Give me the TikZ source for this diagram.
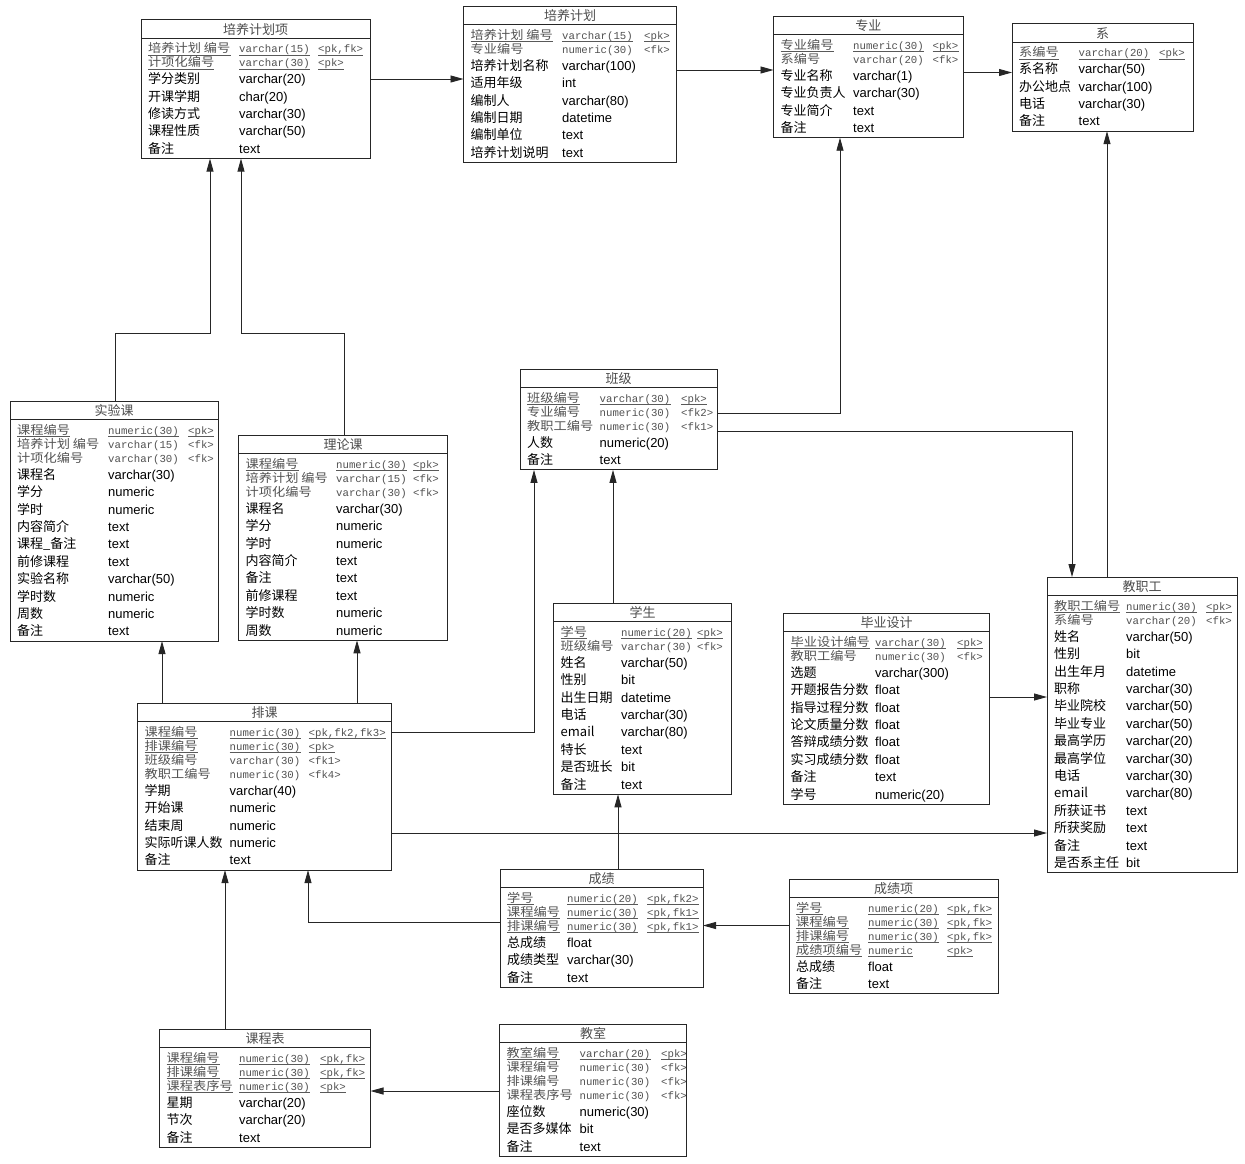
\documentclass[tikz,border=0pt]{standalone}
\usepackage{fontspec}
\setmainfont{Liberation Sans}
\newfontfamily\cjk{Noto Sans CJK SC}
\newfontfamily\cjkwide[FakeStretch=1.1]{Noto Sans CJK SC}
\newfontfamily\erMono{Liberation Mono}
\usetikzlibrary{arrows.meta,calc}

\tikzset{
  box/.style={draw=black!85, line width=1pt, inner sep=0pt, outer sep=0pt, anchor=north west},
  sepline/.style={draw=black!85, line width=0.9pt},
  ttl/.style={anchor=base, inner sep=0pt, font=\cjk\fontsize{13}{15}\selectfont, text=black!70},
  nm/.style={anchor=base west, inner sep=0pt, font=\cjk\fontsize{13}{15}\selectfont},
  ty/.style={anchor=base west, inner sep=0pt, font=\fontsize{13}{15}\selectfont},
  knm/.style={anchor=base west, inner sep=0pt, font=\cjkwide\fontsize{12}{14}\selectfont, text=black!68},
  kty/.style={anchor=base west, inner sep=0pt, font=\erMono\fontsize{10.7}{12}\selectfont, text=black!68},
  ul/.style={draw=black!65, line width=0.6pt},
  fk/.style={draw=black!85, line width=0.9pt, -{Triangle[length=13pt,width=7pt]}},
}

\newcount\erRowNo
\newcommand\tstart[7]{%
  \gdef\erN{#1}\gdef\erX{#2}\gdef\erY{#3}\gdef\erW{#4}\gdef\erA{#5}\gdef\erB{#6}%
  \global\erRowNo=0
  \pgfmathsetmacro\erTmp{#3+29}\xdef\erR{\erTmp}%
  \gdef\erK{1}%
  \node[ttl] (#1-title) at (#2+#4/2,#3+14.7) {#7};%
}
\newcommand\krow[4]{%
  \global\advance\erRowNo by 1
  \xdef\erRN{\erN-\the\erRowNo}%
  \pgfmathsetmacro\erRowB{\erR+4.4}%
  \node[knm] (\erRN-a) at (\erX+7,\erRowB) {#1};%
  \node[kty] (\erRN-b) at (\erA,\erRowB) {#2};%
  \node[kty] (\erRN-c) at (\erB,\erRowB) {#3};%
  \ifnum#4=1
    \foreach \s in {a,b,c}{\draw[ul] ([yshift=-2pt]\erRN-\s.base west) -- ([yshift=-2pt]\erRN-\s.base east);}%
  \fi
  \pgfmathsetmacro\erTmp{\erR+14}\xdef\erR{\erTmp}%
  \gdef\erK{1}%
}
\newcommand\nrow[2]{%
  \global\advance\erRowNo by 1
  \xdef\erRN{\erN-\the\erRowNo}%
  \ifnum\erK=1 \pgfmathsetmacro\erTmp{\erR+2.5}\xdef\erR{\erTmp}\fi
  \pgfmathsetmacro\erRowB{\erR+4.7}%
  \node[nm] (\erRN-a) at (\erX+7,\erRowB) {#1};%
  \node[ty] (\erRN-b) at (\erA,\erRowB) {#2};%
  \pgfmathsetmacro\erTmp{\erR+17.4}\xdef\erR{\erTmp}%
  \gdef\erK{0}%
}
\newcommand\tend{%
  \pgfmathsetmacro\erTmp{\erR-17.4+10-\erY}%
  \node[box, minimum width=\erW pt, minimum height=\erTmp pt] (\erN) at (\erX,\erY) {};%
  \draw[sepline] (\erX,\erY+18.7) -- (\erX+\erW,\erY+18.7);%
}

\begin{document}
\begin{tikzpicture}[x=1pt,y=-1pt]
\fill[white] (0,0) rectangle (1245,1163);
\useasboundingbox (0,0) rectangle (1245,1163);

% 培养计划项
\tstart{pjx}{141}{19.5}{229}{239}{318}{培养计划项}
\krow{培养计划 编号}{varchar(15)}{<pk,fk>}{1}
\krow{计项化编号}{varchar(30)}{<pk>}{1}
\nrow{学分类别}{varchar(20)}
\nrow{开课学期}{char(20)}
\nrow{修读方式}{varchar(30)}
\nrow{课程性质}{varchar(50)}
\nrow{备注}{text}
\tend

% 培养计划
\tstart{pj}{463.5}{6}{213}{562}{644}{培养计划}
\krow{培养计划 编号}{varchar(15)}{<pk>}{1}
\krow{专业编号}{numeric(30)}{<fk>}{0}
\nrow{培养计划名称}{varchar(100)}
\nrow{适用年级}{int}
\nrow{编制人}{varchar(80)}
\nrow{编制日期}{datetime}
\nrow{编制单位}{text}
\nrow{培养计划说明}{text}
\tend

% 专业
\tstart{zy}{773.5}{16}{189.5}{853}{932.5}{专业}
\krow{专业编号}{numeric(30)}{<pk>}{1}
\krow{系编号}{varchar(20)}{<fk>}{0}
\nrow{专业名称}{varchar(1)}
\nrow{专业负责人}{varchar(30)}
\nrow{专业简介}{text}
\nrow{备注}{text}
\tend

% 系
\tstart{xi}{1012}{23.5}{181}{1078.5}{1159}{系}
\krow{系编号}{varchar(20)}{<pk>}{1}
\nrow{系名称}{varchar(50)}
\nrow{办公地点}{varchar(100)}
\nrow{电话}{varchar(30)}
\nrow{备注}{text}
\tend

% 实验课
\tstart{syk}{10}{401}{208}{108}{188}{实验课}
\krow{课程编号}{numeric(30)}{<pk>}{1}
\krow{培养计划 编号}{varchar(15)}{<fk>}{0}
\krow{计项化编号}{varchar(30)}{<fk>}{0}
\nrow{课程名}{varchar(30)}
\nrow{学分}{numeric}
\nrow{学时}{numeric}
\nrow{内容简介}{text}
\nrow{课程\_备注}{text}
\nrow{前修课程}{text}
\nrow{实验名称}{varchar(50)}
\nrow{学时数}{numeric}
\nrow{周数}{numeric}
\nrow{备注}{text}
\tend

% 理论课
\tstart{llk}{238.5}{435}{209}{336}{413}{理论课}
\krow{课程编号}{numeric(30)}{<pk>}{1}
\krow{培养计划 编号}{varchar(15)}{<fk>}{0}
\krow{计项化编号}{varchar(30)}{<fk>}{0}
\nrow{课程名}{varchar(30)}
\nrow{学分}{numeric}
\nrow{学时}{numeric}
\nrow{内容简介}{text}
\nrow{备注}{text}
\nrow{前修课程}{text}
\nrow{学时数}{numeric}
\nrow{周数}{numeric}
\tend

% 班级
\tstart{bj}{520}{369}{197}{599.5}{681}{班级}
\krow{班级编号}{varchar(30)}{<pk>}{1}
\krow{专业编号}{numeric(30)}{<fk2>}{0}
\krow{教职工编号}{numeric(30)}{<fk1>}{0}
\nrow{人数}{numeric(20)}
\nrow{备注}{text}
\tend

% 学生
\tstart{xs}{553.5}{603}{178}{621}{697}{学生}
\krow{学号}{numeric(20)}{<pk>}{1}
\krow{班级编号}{varchar(30)}{<fk>}{0}
\nrow{姓名}{varchar(50)}
\nrow{性别}{bit}
\nrow{出生日期}{datetime}
\nrow{电话}{varchar(30)}
\nrow{email}{varchar(80)}
\nrow{特长}{text}
\nrow{是否班长}{bit}
\nrow{备注}{text}
\tend

% 毕业设计
\tstart{bysj}{783.5}{613}{206}{875}{957}{毕业设计}
\krow{毕业设计编号}{varchar(30)}{<pk>}{1}
\krow{教职工编号}{numeric(30)}{<fk>}{0}
\nrow{选题}{varchar(300)}
\nrow{开题报告分数}{float}
\nrow{指导过程分数}{float}
\nrow{论文质量分数}{float}
\nrow{答辩成绩分数}{float}
\nrow{实习成绩分数}{float}
\nrow{备注}{text}
\nrow{学号}{numeric(20)}
\tend

% 教职工
\tstart{jzg}{1047}{577}{190}{1126}{1206}{教职工}
\krow{教职工编号}{numeric(30)}{<pk>}{1}
\krow{系编号}{varchar(20)}{<fk>}{0}
\nrow{姓名}{varchar(50)}
\nrow{性别}{bit}
\nrow{出生年月}{datetime}
\nrow{职称}{varchar(30)}
\nrow{毕业院校}{varchar(50)}
\nrow{毕业专业}{varchar(50)}
\nrow{最高学历}{varchar(20)}
\nrow{最高学位}{varchar(30)}
\nrow{电话}{varchar(30)}
\nrow{email}{varchar(80)}
\nrow{所获证书}{text}
\nrow{所获奖励}{text}
\nrow{备注}{text}
\nrow{是否系主任}{bit}
\tend

% 排课
\tstart{pk}{137.5}{703}{254}{229.5}{308.5}{排课}
\krow{课程编号}{numeric(30)}{<pk,fk2,fk3>}{1}
\krow{排课编号}{numeric(30)}{<pk>}{1}
\krow{班级编号}{varchar(30)}{<fk1>}{0}
\krow{教职工编号}{numeric(30)}{<fk4>}{0}
\nrow{学期}{varchar(40)}
\nrow{开始课}{numeric}
\nrow{结束周}{numeric}
\nrow{实际听课人数}{numeric}
\nrow{备注}{text}
\tend

% 成绩
\tstart{cj}{500}{869}{203}{567}{647}{成绩}
\krow{学号}{numeric(20)}{<pk,fk2>}{1}
\krow{课程编号}{numeric(30)}{<pk,fk1>}{1}
\krow{排课编号}{numeric(30)}{<pk,fk1>}{1}
\nrow{总成绩}{float}
\nrow{成绩类型}{varchar(30)}
\nrow{备注}{text}
\tend

% 成绩项
\tstart{cjx}{789}{879}{209}{868}{947}{成绩项}
\krow{学号}{numeric(20)}{<pk,fk>}{1}
\krow{课程编号}{numeric(30)}{<pk,fk>}{1}
\krow{排课编号}{numeric(30)}{<pk,fk>}{1}
\krow{成绩项编号}{numeric}{<pk>}{1}
\nrow{总成绩}{float}
\nrow{备注}{text}
\tend

% 课程表
\tstart{kcb}{159.5}{1029}{211}{239}{320}{课程表}
\krow{课程编号}{numeric(30)}{<pk,fk>}{1}
\krow{排课编号}{numeric(30)}{<pk,fk>}{1}
\krow{课程表序号}{numeric(30)}{<pk>}{1}
\nrow{星期}{varchar(20)}
\nrow{节次}{varchar(20)}
\nrow{备注}{text}
\tend

% 教室
\tstart{js}{499.5}{1024}{187}{579.5}{661}{教室}
\krow{教室编号}{varchar(20)}{<pk>}{1}
\krow{课程编号}{numeric(30)}{<fk>}{0}
\krow{排课编号}{numeric(30)}{<fk>}{0}
\krow{课程表序号}{numeric(30)}{<fk>}{0}
\nrow{座位数}{numeric(30)}
\nrow{是否多媒体}{bit}
\nrow{备注}{text}
\tend

% ---------- connectors ----------
\coordinate (c1) at ([yshift=-59.5pt]pjx.north east);
\draw[fk] (c1) -- (c1 -| pj.west);

\coordinate (c2) at ([yshift=-64pt]pj.north east);
\draw[fk] (c2) -- (c2 -| zy.west);

\coordinate (c3) at ([yshift=-56.5pt]zy.north east);
\draw[fk] (c3) -- (c3 -| xi.west);

\coordinate (c4a) at ([xshift=105pt]syk.north west);
\coordinate (c4b) at ([xshift=69pt]pjx.south west);
\draw[fk] (c4a) -- ++(0,-68) -| (c4b);

\coordinate (c5a) at ([xshift=105.5pt]llk.north west);
\coordinate (c5b) at ([xshift=100pt]pjx.south west);
\draw[fk] (c5a) -- ++(0,-102) -| (c5b);

\coordinate (c6a) at ([yshift=-44pt]bj.north east);
\coordinate (c6b) at ([xshift=66.5pt]zy.south west);
\draw[fk] (c6a) -| (c6b);

\coordinate (c7a) at ([yshift=-62pt]bj.north east);
\coordinate (c7b) at ([xshift=25pt]jzg.north west);
\draw[fk] (c7a) -| (c7b);

\coordinate (c8a) at ([xshift=60pt]jzg.north west);
\coordinate (c8b) at ([xshift=95pt]xi.south west);
\draw[fk] (c8a) -- (c8b);

\coordinate (c9a) at ([xshift=59.5pt]xs.north west);
\draw[fk] (c9a) -- (c9a |- bj.south);

\coordinate (c10a) at ([yshift=-29pt]pk.north east);
\coordinate (c10b) at ([xshift=14pt]bj.south west);
\draw[fk] (c10a) -| (c10b);

\coordinate (c11a) at ([xshift=24.5pt]pk.north west);
\draw[fk] (c11a) -- (c11a |- syk.south);

\coordinate (c12a) at ([xshift=219.5pt]pk.north west);
\draw[fk] (c12a) -- (c12a |- llk.south);

\coordinate (c13a) at ([yshift=-130pt]pk.north east);
\draw[fk] (c13a) -- (c13a -| jzg.west);

\coordinate (c14a) at ([yshift=-84pt]bysj.north east);
\draw[fk] (c14a) -- (c14a -| jzg.west);

\coordinate (c15a) at ([xshift=118pt]cj.north west);
\draw[fk] (c15a) -- (c15a |- xs.south);

\coordinate (c16a) at ([yshift=-53pt]cj.north west);
\coordinate (c16b) at ([xshift=170.5pt]pk.south west);
\draw[fk] (c16a) -| (c16b);

\coordinate (c17a) at ([yshift=-46.5pt]cjx.north west);
\draw[fk] (c17a) -- (c17a -| cj.east);

\coordinate (c18a) at ([xshift=65.5pt]kcb.north west);
\draw[fk] (c18a) -- (c18a |- pk.south);

\coordinate (c19a) at ([yshift=-67pt]js.north west);
\draw[fk] (c19a) -- (c19a -| kcb.east);
\end{tikzpicture}
\end{document}
